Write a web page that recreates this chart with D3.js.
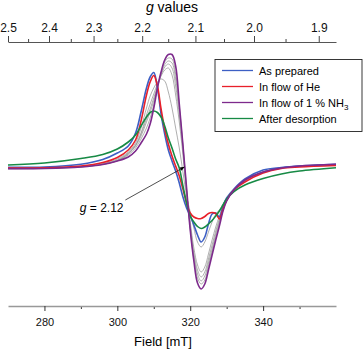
<!DOCTYPE html>
<html>
<head>
<meta charset="utf-8">
<script src="https://cdn.jsdelivr.net/npm/d3@7"></script>
<style>
  body { margin: 0; background: #fff; }
  svg { font-family: "Liberation Sans", Arial, sans-serif; }
  .axis text { font-size: 11px; fill: #111; }
  .axis.top text { font-size: 12px; }
</style>
</head>
<body>
<div id="chart"></div>
<script>
// field grid (mT) shared by every spectrum
const field = [270, 280, 290, 296, 300, 303, 305, 306.5, 308, 309, 310, 311, 312, 313, 314, 315, 316, 317, 318, 319,
               320, 321, 322, 323, 324, 325, 326, 327, 328, 329, 330, 332, 335, 340, 345, 350, 360];

// derivative EPR signal, arbitrary units (baseline = 0)
const asPrepared = [-1.3, -1, 1.8, 6.5, 13, 20, 33, 54, 78, 89, 93.5, 78, 52, 32, 16, 5, -5, -17, -31, -42,
                    -50, -59, -69, -76, -71, -58, -48, -47, -51, -40, -32, -23, -13, -4, -1.5, 0, 1.7];
const flowHe = [-2, -1.8, 0, 3.5, 8.5, 16, 26, 45, 71, 84, 90.5, 80, 57, 37, 22, 10, 0, -10, -23, -37,
                -47, -51, -52.5, -52.5, -50.5, -47.5, -46.5, -47.5, -53, -43, -34, -24, -16, -7, -2.5, -1, 0.5];
const flowNH3 = [-2.7, -2.5, -1, 1.5, 5, 9, 15, 23, 32, 42, 58, 78, 94, 106, 111.5, 111.5, 100, 62, 21, -22,
                 -64, -95, -117, -123, -118, -104, -89, -74, -60, -45, -35, -24, -14, -6, -2, 0, 1.7];
const afterDesorption = [1, 3, 7.5, 11.5, 17, 24, 31, 40, 49, 53.5, 55, 53.5, 49, 40, 28, 18, 7, -2, -20, -37,
                         -50, -56, -60.5, -62.5, -61, -58, -54.5, -50, -45, -39, -33, -25.5, -19, -12.5, -8, -5, -1.7];

// intermediate spectra recorded during NH3 uptake (grey)
const uptake1 = [-2.3, -2, -0.5, 2.5, 7, 14, 23, 38, 58, 70, 78, 84, 87, 85, 74, 58, 38, 18, -6, -30,
                 -46, -62, -76, -81, -76, -66, -56, -48, -44, -38, -32, -24, -15, -6, -2, -0.5, 1];
const uptake2 = [-2.5, -2.2, -0.7, 2, 6, 13, 21, 33, 51, 62, 72, 82, 90, 96, 98, 91, 71, 44, 11, -27,
                 -56, -82, -99, -106, -101, -88, -74, -61, -50, -40, -33, -24, -14.5, -6, -2, -0.3, 1.5];
const uptake3 = [-2.6, -2.3, -0.8, 1.8, 5.5, 12.5, 20.5, 32, 47, 57, 68, 80, 91, 99, 102, 98, 80, 51, 16, -25,
                 -59, -87, -104, -111, -106, -93, -79, -65, -53, -42, -34, -24, -14.5, -6, -2, -0.2, 1.6];
const uptake4 = [-2.6, -2.4, -0.9, 1.7, 5.3, 12, 20, 30, 44, 54, 65, 79, 92, 101.5, 105, 103, 87, 57, 19, -24,
                 -61, -90, -108, -115, -110, -97, -83, -68, -55, -43, -34.5, -24, -14.3, -6, -2, -0.1, 1.6];
const uptake5 = [-2.7, -2.5, -1, 1.6, 5.2, 11, 18, 27, 38, 48, 61, 78, 93, 104, 108, 107, 92, 60, 21, -23,
                 -63, -93, -112, -118, -114, -100, -86, -71, -57, -44, -35, -24, -14.2, -6, -2, 0, 1.7];

const seriesNames = ["As prepared", "In flow of He", "In flow of 1 % NH", "After desorption"];
const seriesData = [asPrepared, flowHe, flowNH3, afterDesorption];
const greyRuns = [uptake1, uptake2, uptake3, uptake4, uptake5];

const fieldTicks = [280, 300, 320, 340];
const fieldMinorTicks = [290, 310, 330, 350];
const gTicks = [2.5, 2.4, 2.3, 2.2, 2.1, 2.0, 1.9];
const gMinorTicks = [2.45, 2.35, 2.25, 2.15, 2.05, 1.95];
const gMarker = 2.12;

const colors = ["#3d5fc4", "#e8202a", "#7d2a8c", "#178a45"];

const width = 364, height = 354;
const margin = {top: 42, left: 8, right: 28, bottom: 48};

const svg = d3.select("#chart")
    .append("svg")
    .attr("width", width)
    .attr("height", height);

const xScale = d3.scaleLinear()
    .domain([270, 360])
    .range([margin.left, width - margin.right]);

const yScale = d3.scaleLinear()
    .domain([-140, 124])
    .range([height - margin.bottom, margin.top]);

// g = h*nu / (muB * B)  ->  B[mT] * g = const  (X-band, ~9.45 GHz)
const K = 675;
function gScale(g) { return xScale(K / g); }
gScale.domain = () => [K / 270, K / 360];
gScale.range = () => xScale.range();
gScale.copy = () => gScale;

// bottom axis
svg.append("g")
    .attr("class", "axis")
    .attr("transform", `translate(0,${height - margin.bottom})`)
    .call(d3.axisBottom(xScale).tickValues(fieldMinorTicks).tickSize(3).tickFormat(""))
    .call(g => g.select(".domain").remove())
    .call(g => g.selectAll("line").attr("stroke", "#333"));

svg.append("g")
    .attr("class", "axis")
    .attr("transform", `translate(0,${height - margin.bottom})`)
    .call(d3.axisBottom(xScale).tickValues(fieldTicks).tickSizeInner(5).tickSizeOuter(0).tickPadding(7))
    .call(g => g.select(".domain").attr("stroke", "#999").attr("stroke-width", 1.3))
    .call(g => g.selectAll("line").attr("stroke", "#333"));

// top axis (g values)
svg.append("g")
    .attr("class", "axis top")
    .attr("transform", `translate(0,${margin.top})`)
    .call(d3.axisTop(gScale).tickValues(gMinorTicks).tickSize(3).tickFormat(""))
    .call(g => g.select(".domain").remove())
    .call(g => g.selectAll("line").attr("stroke", "#444"));

svg.append("g")
    .attr("class", "axis top")
    .attr("transform", `translate(0,${margin.top})`)
    .call(d3.axisTop(gScale).tickValues(gTicks).tickFormat(d3.format(".1f"))
        .tickSizeInner(6).tickSizeOuter(0).tickPadding(4))
    .call(g => g.select(".domain").attr("stroke", "#555").attr("stroke-width", 1.2))
    .call(g => g.selectAll("line").attr("stroke", "#444"));

// axis titles
svg.append("text")
    .attr("x", 163)
    .attr("y", 346)
    .attr("text-anchor", "middle")
    .attr("font-size", 13)
    .text("Field [mT]");

const gTitle = svg.append("text")
    .attr("x", 172)
    .attr("y", 12)
    .attr("text-anchor", "middle")
    .attr("font-size", 14);
gTitle.append("tspan").attr("font-style", "italic").text("g");
gTitle.append("tspan").text(" values");

// spectra
const line = d3.line()
    .x((d, i) => xScale(field[i]))
    .y(d => yScale(d))
    .curve(d3.curveCatmullRom.alpha(0.5));

svg.selectAll(".grey")
    .data(greyRuns)
    .enter()
    .append("path")
        .attr("class", "grey")
        .attr("d", line)
        .attr("fill", "none")
        .attr("stroke", "#9a9a9a")
        .attr("stroke-width", 0.8);

const drawOrder = [0, 1, 3, 2];
svg.selectAll(".spectrum")
    .data(drawOrder)
    .enter()
    .append("path")
        .attr("class", "spectrum")
        .attr("d", i => line(seriesData[i]))
        .attr("fill", "none")
        .attr("stroke", i => colors[i])
        .attr("stroke-width", 1.6);

// g = 2.12 annotation
svg.append("defs").append("marker")
    .attr("id", "head")
    .attr("viewBox", "0 0 10 10")
    .attr("refX", 9).attr("refY", 5)
    .attr("markerWidth", 7).attr("markerHeight", 6)
    .attr("orient", "auto")
    .append("path")
        .attr("d", "M0,1 L10,5 L0,9 z")
        .attr("fill", "#000");

svg.append("line")
    .attr("x1", xScale(302.2)).attr("y1", yScale(-34))
    .attr("x2", xScale(K / gMarker)).attr("y2", yScale(-1))
    .attr("stroke", "#222")
    .attr("stroke-width", 0.8)
    .attr("marker-end", "url(#head)");

const gLabel = svg.append("text")
    .attr("x", xScale(289.7))
    .attr("y", yScale(-46))
    .attr("font-size", 12);
gLabel.append("tspan").attr("font-style", "italic").text("g");
gLabel.append("tspan").text(" = 2.12");

// legend
const legend = svg.append("g").attr("transform", "translate(215,59.5)");
legend.append("rect")
    .attr("width", 147).attr("height", 72)
    .attr("fill", "#fff")
    .attr("stroke", "#222")
    .attr("stroke-width", 0.9);

const rows = legend.selectAll(".row")
    .data(seriesNames)
    .enter()
    .append("g")
        .attr("transform", (d, i) => `translate(0,${11 + i * 16})`);

rows.append("line")
    .attr("x1", 7).attr("x2", 38)
    .attr("stroke", (d, i) => colors[i])
    .attr("stroke-width", 1.3);

const labels = rows.append("text")
    .attr("x", 44)
    .attr("y", 4)
    .attr("font-size", 11)
    .text(d => d);
labels.filter((d, i) => i === 2)
    .append("tspan").attr("dy", 3).attr("font-size", 8).text("3");
</script>
</body>
</html>
